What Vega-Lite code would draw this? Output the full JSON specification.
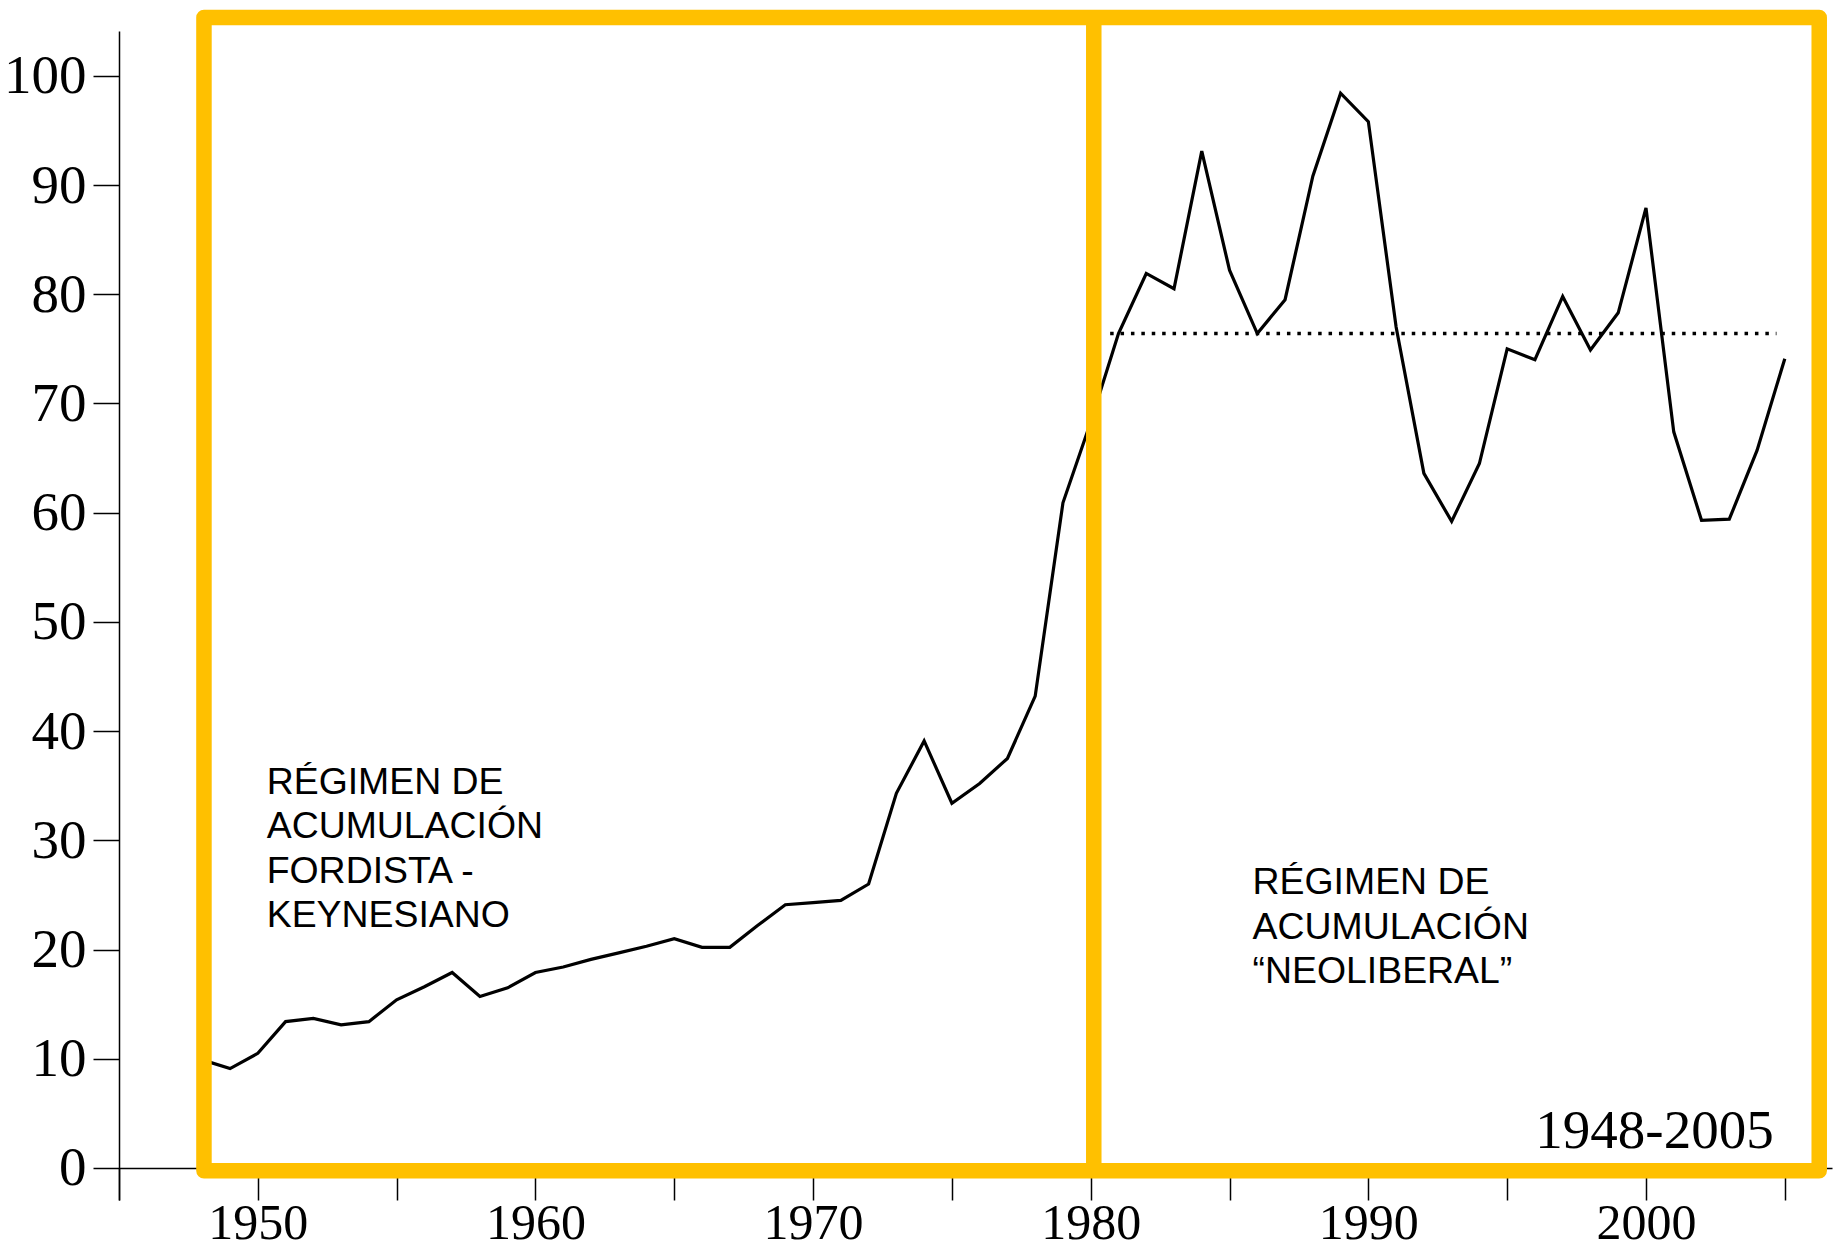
{
  "$schema": "https://vega.github.io/schema/vega-lite/v6.json",
  "width": 1713,
  "height": 1169,
  "autosize": {"type": "none"},
  "padding": {"left": 119, "top": 31, "right": 3, "bottom": 54},
  "background": "white",
  "config": {"view": {"stroke": null}},
  "datasets": {
    "serie": [
      {"anio": 1948, "valor": 9.9}, {"anio": 1949, "valor": 9.1}, {"anio": 1950, "valor": 10.5},
      {"anio": 1951, "valor": 13.4}, {"anio": 1952, "valor": 13.7}, {"anio": 1953, "valor": 13.1},
      {"anio": 1954, "valor": 13.4}, {"anio": 1955, "valor": 15.4}, {"anio": 1956, "valor": 16.6},
      {"anio": 1957, "valor": 17.9}, {"anio": 1958, "valor": 15.7}, {"anio": 1959, "valor": 16.5},
      {"anio": 1960, "valor": 17.9}, {"anio": 1961, "valor": 18.4}, {"anio": 1962, "valor": 19.1},
      {"anio": 1963, "valor": 19.7}, {"anio": 1964, "valor": 20.3}, {"anio": 1965, "valor": 21.0},
      {"anio": 1966, "valor": 20.2}, {"anio": 1967, "valor": 20.2}, {"anio": 1968, "valor": 22.2},
      {"anio": 1969, "valor": 24.1}, {"anio": 1970, "valor": 24.3}, {"anio": 1971, "valor": 24.5},
      {"anio": 1972, "valor": 26.0}, {"anio": 1973, "valor": 34.3}, {"anio": 1974, "valor": 39.1},
      {"anio": 1975, "valor": 33.4}, {"anio": 1976, "valor": 35.2}, {"anio": 1977, "valor": 37.5},
      {"anio": 1978, "valor": 43.2}, {"anio": 1979, "valor": 60.9}, {"anio": 1980, "valor": 68.3},
      {"anio": 1981, "valor": 76.4}, {"anio": 1982, "valor": 81.9}, {"anio": 1983, "valor": 80.5},
      {"anio": 1984, "valor": 93.1}, {"anio": 1985, "valor": 82.2}, {"anio": 1986, "valor": 76.4},
      {"anio": 1987, "valor": 79.5}, {"anio": 1988, "valor": 90.8}, {"anio": 1989, "valor": 98.4},
      {"anio": 1990, "valor": 95.8}, {"anio": 1991, "valor": 77.0}, {"anio": 1992, "valor": 63.6},
      {"anio": 1993, "valor": 59.2}, {"anio": 1994, "valor": 64.5}, {"anio": 1995, "valor": 75.0},
      {"anio": 1996, "valor": 74.0}, {"anio": 1997, "valor": 79.8}, {"anio": 1998, "valor": 74.9},
      {"anio": 1999, "valor": 78.3}, {"anio": 2000, "valor": 87.9}, {"anio": 2001, "valor": 67.4},
      {"anio": 2002, "valor": 59.3}, {"anio": 2003, "valor": 59.4}, {"anio": 2004, "valor": 65.7},
      {"anio": 2005, "valor": 74.1}
    ],
    "media": [{"anio": 1980.7, "anio2": 2004.7, "valor": 76.4}],
    "marco": [{"anio": 1948.06, "anio2": 2006.24, "valor": -0.26, "valor2": 105.33}],
    "division": [{"anio": 1980.11, "valor": -0.26, "valor2": 105.33}],
    "rotulos": [
      {"anio": 1950.32, "valor": 34.25, "texto": "RÉGIMEN DE\nACUMULACIÓN\nFORDISTA -\nKEYNESIANO"},
      {"anio": 1985.83, "valor": 25.05, "texto": "RÉGIMEN DE\nACUMULACIÓN\n“NEOLIBERAL”"}
    ],
    "periodo": [{"anio": 2004.6, "valor": 1.8, "texto": "1948-2005"}]
  },
  "encoding": {
    "x": {
      "field": "anio",
      "type": "quantitative",
      "scale": {"domain": [1945, 2006.7], "nice": false, "zero": false},
      "axis": {
        "values": [1945, 1950, 1955, 1960, 1965, 1970, 1975, 1980, 1985, 1990, 1995, 2000, 2005],
        "format": "d",
        "labelExpr": "datum.value % 10 == 0 ? datum.label : ''",
        "title": null,
        "grid": false,
        "offset": -32,
        "tickSize": 32,
        "tickColor": "black",
        "tickWidth": 1.5,
        "domainColor": "black",
        "domainWidth": 1.5,
        "labelFont": "Liberation Serif",
        "labelFontSize": 50,
        "labelColor": "black",
        "labelPadding": -2,
        "labelFlush": false,
        "labelOverlap": false
      }
    },
    "y": {
      "field": "valor",
      "type": "quantitative",
      "scale": {"domain": [-2.93, 104.1], "nice": false, "zero": false},
      "axis": {
        "values": [0, 10, 20, 30, 40, 50, 60, 70, 80, 90, 100],
        "format": "d",
        "title": null,
        "grid": false,
        "tickSize": 26,
        "tickColor": "black",
        "tickWidth": 1.5,
        "domainColor": "black",
        "domainWidth": 1.5,
        "labelFont": "Liberation Serif",
        "labelFontSize": 55,
        "labelColor": "black",
        "labelPadding": 7,
        "labelFlush": false,
        "labelOverlap": false
      }
    }
  },
  "layer": [
    {
      "data": {"name": "serie"},
      "mark": {"type": "line", "color": "black", "strokeWidth": 3.2},
      "encoding": {}
    },
    {
      "data": {"name": "media"},
      "mark": {"type": "rule", "color": "black", "strokeWidth": 3.5, "strokeDash": [3.5, 6.9]},
      "encoding": {"x2": {"field": "anio2"}}
    },
    {
      "data": {"name": "marco"},
      "mark": {"type": "rect", "fill": "white", "fillOpacity": 0, "stroke": "#FFC000", "strokeWidth": 15.5, "strokeJoin": "round"},
      "encoding": {"x2": {"field": "anio2"}, "y2": {"field": "valor2"}}
    },
    {
      "data": {"name": "division"},
      "mark": {"type": "rule", "color": "#FFC000", "strokeWidth": 15.5},
      "encoding": {"y2": {"field": "valor2"}}
    },
    {
      "data": {"name": "rotulos"},
      "mark": {"type": "text", "align": "left", "baseline": "alphabetic", "font": "Liberation Sans", "fontSize": 37.4, "lineBreak": "\n", "lineHeight": 44.5, "color": "black"},
      "encoding": {"text": {"field": "texto"}}
    },
    {
      "data": {"name": "periodo"},
      "mark": {"type": "text", "align": "right", "baseline": "alphabetic", "font": "Liberation Serif", "fontSize": 55, "color": "black"},
      "encoding": {"text": {"field": "texto"}}
    }
  ]
}
